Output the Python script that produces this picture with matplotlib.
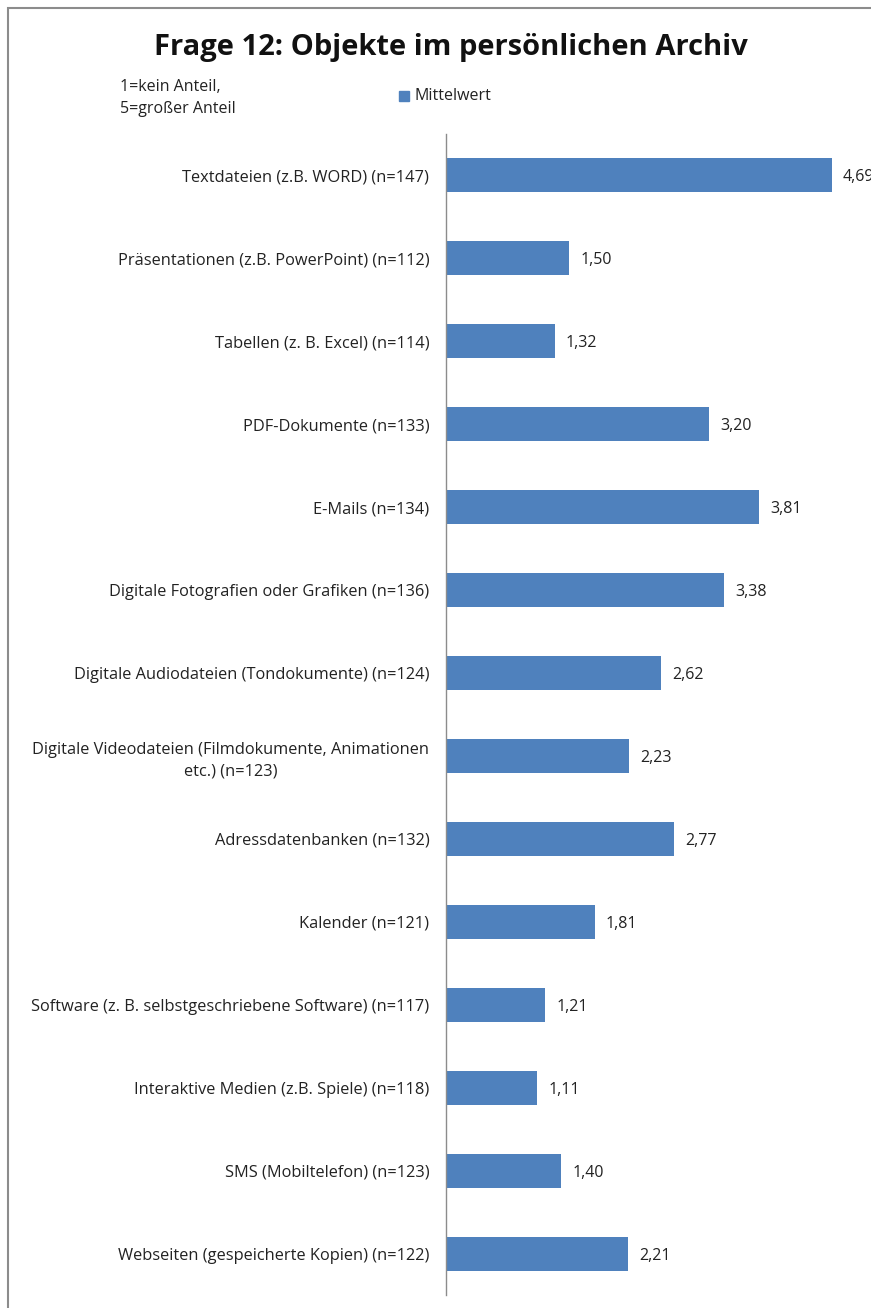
import matplotlib
matplotlib.use('Agg')
import matplotlib.pyplot as plt
from matplotlib.patches import Rectangle

plt.rcParams['font.family'] = ['Open Sans', 'DejaVu Sans']

# Daten
kategorien = [
    'Textdateien (z.B. WORD) (n=147)',
    'Präsentationen (z.B. PowerPoint) (n=112)',
    'Tabellen (z. B. Excel) (n=114)',
    'PDF-Dokumente (n=133)',
    'E-Mails (n=134)',
    'Digitale Fotografien oder Grafiken (n=136)',
    'Digitale Audiodateien (Tondokumente) (n=124)',
    'Digitale Videodateien (Filmdokumente, Animationen\netc.) (n=123)',
    'Adressdatenbanken (n=132)',
    'Kalender (n=121)',
    'Software (z. B. selbstgeschriebene Software) (n=117)',
    'Interaktive Medien (z.B. Spiele) (n=118)',
    'SMS (Mobiltelefon) (n=123)',
    'Webseiten (gespeicherte Kopien) (n=122)',
]
mittelwerte = [4.69, 1.50, 1.32, 3.20, 3.81, 3.38, 2.62, 2.23, 2.77, 1.81, 1.21, 1.11, 1.40, 2.21]
wert_labels = ['4,69', '1,50', '1,32', '3,20', '3,81', '3,38', '2,62', '2,23', '2,77', '1,81', '1,21', '1,11', '1,40', '2,21']

W, H = 871, 1308
fig = plt.figure(figsize=(W / 100, H / 100), dpi=100)

# Rahmen
fig.patches.append(Rectangle((8 / W, -0.01), 1.0, 1 - 8 / H + 0.01, transform=fig.transFigure,
                             fill=False, edgecolor='#8c8c8c', linewidth=1.5))

ax_links, ax_oben, ax_unten = 446, 134, 1295
ax = fig.add_axes([ax_links / W, 1 - ax_unten / H, (W - ax_links) / W, (ax_unten - ax_oben) / H])

farbe = '#4F81BD'
pos = list(range(len(kategorien)))
ax.barh(pos, mittelwerte, height=0.41, color=farbe)
ax.set_ylim(len(kategorien) - 0.5, -0.5)
ax.set_xlim(0, (W - ax_links) / 82.2)

for p, v, t in zip(pos, mittelwerte, wert_labels):
    ax.annotate(t, (v, p), xytext=(8, 0), textcoords='offset points',
                va='center_baseline', ha='left', fontsize=11.5, color='#222222', annotation_clip=False)

ax.set_yticks(pos)
ax.set_yticklabels(kategorien, fontsize=11.8, color='#222222', multialignment='center', linespacing=1.45)
ax.tick_params(axis='y', length=0, pad=12)
ax.set_xticks([])
for s in ['top', 'right', 'bottom']:
    ax.spines[s].set_visible(False)
ax.spines['left'].set_color('#8c8c8c')
ax.spines['left'].set_linewidth(1)

fig.text(451 / W, 1 - 47 / H, 'Frage 12: Objekte im persönlichen Archiv', ha='center', va='center',
         fontsize=21, fontweight='bold', color='#111111')
fig.text(120 / W, 1 - 98 / H, '1=kein Anteil,\n5=großer Anteil', ha='left', va='center',
         fontsize=11.5, color='#222222', linespacing=1.45)
fig.patches.append(Rectangle((399 / W, 1 - 101 / H), 10 / W, 10 / H, transform=fig.transFigure,
                             color=farbe))
fig.text(414 / W, 1 - 96 / H, 'Mittelwert', ha='left', va='center', fontsize=11.5, color='#222222')

fig.savefig('out.png', dpi=100)
